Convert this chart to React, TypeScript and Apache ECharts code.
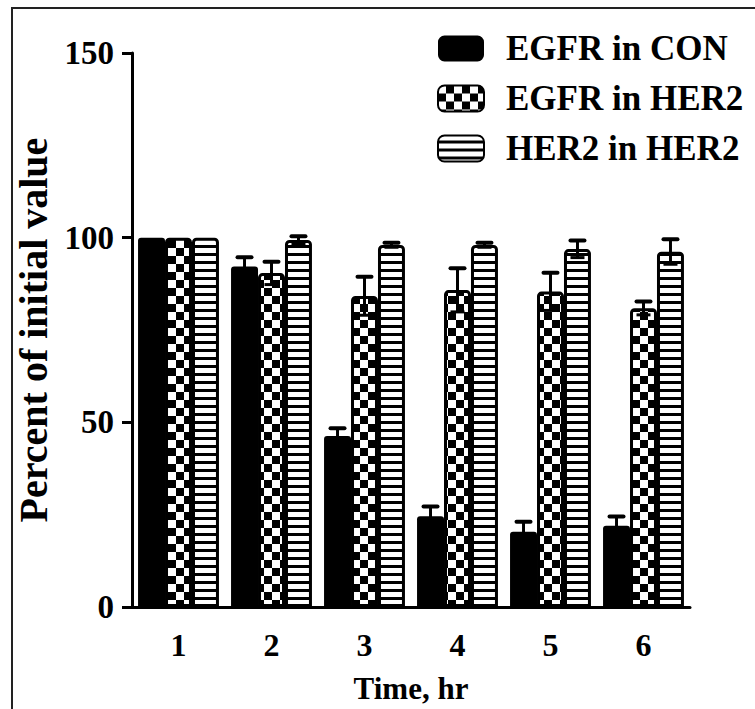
import React, { useEffect, useRef } from "react";
import * as echarts from "echarts";

const categories = ["1", "2", "3", "4", "5", "6"];
const seriesNames = ["EGFR in CON", "EGFR in HER2", "HER2 in HER2"];
const egfrCon = [100, 92.2, 46.3, 24.6, 20.4, 22.0];
const egfrConErr = [0, 2.5, 2.1, 2.6, 2.7, 2.5];
const egfrHer2 = [100, 90.4, 84.2, 85.8, 85.4, 80.9];
const egfrHer2Err = [0, 3.1, 5.2, 5.9, 5.1, 1.8];
const her2Her2 = [100, 99.4, 98.0, 98.0, 96.9, 96.2];
const her2Her2Err = [0, 1.0, 0.6, 0.6, 2.3, 3.4];
const yTicks = [0, 50, 100, 150];

const BAR_FRAC = 0.29;
const FONT = "'Liberation Serif', 'Times New Roman', serif";

function makeChecker() {
  const c = document.createElement("canvas");
  c.width = 16;
  c.height = 16;
  const g = c.getContext("2d")!;
  g.fillStyle = "#000";
  g.fillRect(0, 0, 16, 16);
  g.fillStyle = "#fff";
  g.fillRect(0, 0, 8, 8);
  g.fillRect(8, 8, 8, 8);
  return c;
}

function makeStripes() {
  const c = document.createElement("canvas");
  c.width = 8;
  c.height = 8;
  const g = c.getContext("2d")!;
  g.fillStyle = "#fff";
  g.fillRect(0, 0, 8, 8);
  g.fillStyle = "#000";
  g.fillRect(0, 5, 8, 3);
  return c;
}

export default function App() {
  const ref = useRef<HTMLDivElement>(null);
  useEffect(() => {
    if (!ref.current) return;
    const chart = echarts.init(ref.current, undefined, { renderer: "svg" });
    const checker = { image: makeChecker(), repeat: "repeat", imageWidth: 16, imageHeight: 16 };
    const stripes = { image: makeStripes(), repeat: "repeat", imageWidth: 8, imageHeight: 8 };

    const values = [egfrCon, egfrHer2, her2Her2];
    const errs = [egfrConErr, egfrHer2Err, her2Her2Err];
    const errData: number[][] = [];
    values.forEach((vals, s) => {
      vals.forEach((v, i) => {
        errData.push([i, v, errs[s][i], s - 1]);
      });
    });

    const barBase = {
      type: "bar",
      barWidth: BAR_FRAC * 100 + "%",
      barGap: "0%",
    };

    chart.setOption({
      animation: false,
      backgroundColor: "#fff",
      graphic: [
        {
          type: "rect",
          z: -10,
          shape: { x: 12, y: 8, width: 780, height: 740 },
          style: { fill: "none", stroke: "#222", lineWidth: 2 },
        },
      ],
      grid: { left: 132, right: 65, top: 53, bottom: 102, containLabel: false },
      legend: {
        data: seriesNames,
        orient: "vertical",
        left: 437,
        top: 31,
        padding: 0,
        itemWidth: 46,
        itemHeight: 26,
        itemGap: 15,
        icon: "roundRect",
        textStyle: {
          fontFamily: FONT,
          fontWeight: "bold",
          fontSize: 35,
          lineHeight: 35,
          color: "#000",
          padding: [0, 0, 0, 17],
        },
      },
      xAxis: {
        type: "category",
        data: categories,
        name: "Time, hr",
        nameLocation: "middle",
        nameGap: 66,
        nameTextStyle: { fontFamily: FONT, fontWeight: "bold", fontSize: 31, color: "#000" },
        axisLine: { lineStyle: { color: "#000", width: 3 } },
        axisTick: { alignWithLabel: true, length: 16, lineStyle: { color: "#000", width: 3 } },
        axisLabel: { fontFamily: FONT, fontWeight: "bold", fontSize: 32, color: "#000", margin: 22 },
        splitLine: { show: false },
      },
      yAxis: {
        type: "value",
        min: yTicks[0],
        max: yTicks[yTicks.length - 1],
        interval: 50,
        name: "Percent of initial value",
        nameLocation: "middle",
        nameGap: 78,
        nameTextStyle: { fontFamily: FONT, fontWeight: "bold", fontSize: 40, color: "#000" },
        axisLine: { show: true, lineStyle: { color: "#000", width: 3 } },
        axisTick: { show: true, length: 10, lineStyle: { color: "#000", width: 3 } },
        axisLabel: { fontFamily: FONT, fontWeight: "bold", fontSize: 33, color: "#000", margin: 18 },
        splitLine: { show: false },
      },
      series: [
        {
          ...barBase,
          name: seriesNames[0],
          data: egfrCon,
          itemStyle: { color: "#000", borderRadius: [3, 3, 0, 0] },
        },
        {
          ...barBase,
          name: seriesNames[1],
          data: egfrHer2,
          itemStyle: { color: checker, borderColor: "#000", borderWidth: 3, borderRadius: [3, 3, 0, 0] },
        },
        {
          ...barBase,
          name: seriesNames[2],
          data: her2Her2,
          itemStyle: { color: stripes, borderColor: "#000", borderWidth: 3, borderRadius: [3, 3, 0, 0] },
        },
        {
          type: "custom",
          name: "errors",
          z: 5,
          encode: { x: 0, y: 1 },
          data: errData,
          renderItem: (params: any, api: any) => {
            const idx = api.value(0);
            const mean = api.value(1);
            const err = api.value(2);
            const slot = api.value(3);
            if (!err) return null;
            const band = api.size([1, 0])[0];
            const bw = band * BAR_FRAC;
            const c = api.coord([idx, mean]);
            const x = c[0] + slot * bw;
            const yTop = api.coord([idx, mean + err])[1];
            const yBot = api.coord([idx, mean - err])[1];
            const half = 7;
            return {
              type: "group",
              children: [
                {
                  type: "line",
                  shape: { x1: x, y1: yTop, x2: x, y2: yBot },
                  style: { stroke: "#000", lineWidth: 3 },
                },
                {
                  type: "line",
                  shape: { x1: x - half, y1: yTop, x2: x + half, y2: yTop },
                  style: { stroke: "#000", lineWidth: 4, lineCap: "round" },
                },
                {
                  type: "line",
                  shape: { x1: x - half, y1: yBot, x2: x + half, y2: yBot },
                  style: { stroke: "#000", lineWidth: 3 },
                },
              ],
            };
          },
        },
      ],
    });
    return () => chart.dispose();
  }, []);
  return (
    <div
      ref={ref}
      style={{ position: "absolute", left: 0, top: 0, width: 755, height: 709, background: "#fff" }}
    />
  );
}
